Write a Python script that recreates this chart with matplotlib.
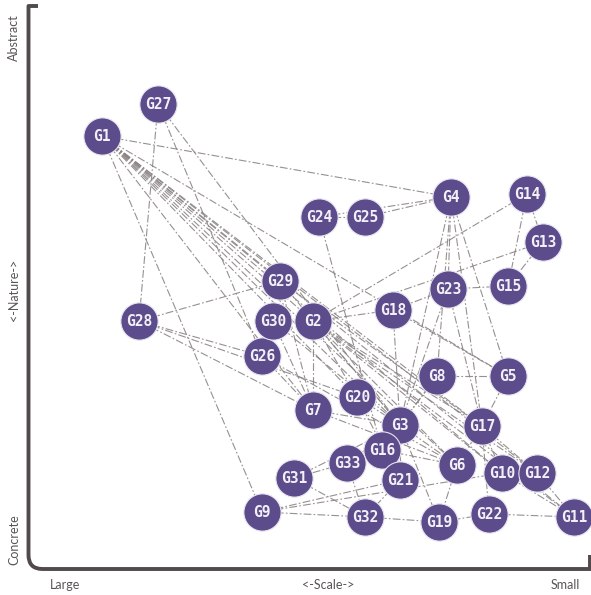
import matplotlib
matplotlib.use('Agg')
import matplotlib.pyplot as plt
from matplotlib.path import Path
from matplotlib.patches import PathPatch

# Noeuds (position: x = échelle, y = nature, origine en haut)
names = ['G1', 'G2', 'G3', 'G4', 'G5', 'G6', 'G7', 'G8', 'G9', 'G10', 'G11',
         'G12', 'G13', 'G14', 'G15', 'G16', 'G17', 'G18', 'G19', 'G20', 'G21',
         'G22', 'G23', 'G24', 'G25', 'G26', 'G27', 'G28', 'G29', 'G30', 'G31',
         'G32', 'G33']
xs = [102, 313, 400, 451, 508, 457, 313, 437, 262, 502, 574,
      537, 543, 527, 508, 382, 482, 393, 439, 357, 400,
      489, 448, 319, 365, 262, 158, 139, 280, 273, 294,
      365, 347]
ys = [136, 321, 425, 197, 376, 465, 410, 376, 512, 473, 517,
      473, 242, 194, 286, 450, 426, 310, 522, 397, 480,
      514, 289, 217, 217, 356, 104, 321, 281, 321, 478,
      517, 463]

# Liens
edges = [
    ('G1', 'G4'), ('G1', 'G9'), ('G1', 'G29'), ('G1', 'G2'), ('G1', 'G3'),
    ('G1', 'G5'), ('G1', 'G17'), ('G1', 'G6'), ('G1', 'G10'), ('G1', 'G12'),
    ('G1', 'G11'), ('G1', 'G7'), ('G1', 'G20'),
    ('G27', 'G28'), ('G27', 'G26'), ('G27', 'G3'),
    ('G28', 'G29'), ('G28', 'G26'), ('G28', 'G7'), ('G28', 'G20'),
    ('G24', 'G25'), ('G25', 'G4'), ('G24', 'G4'), ('G24', 'G16'),
    ('G4', 'G23'), ('G4', 'G8'), ('G4', 'G3'), ('G4', 'G17'), ('G4', 'G5'),
    ('G14', 'G2'), ('G14', 'G13'), ('G14', 'G15'),
    ('G13', 'G2'), ('G13', 'G15'),
    ('G15', 'G23'), ('G23', 'G18'), ('G23', 'G17'), ('G23', 'G3'),
    ('G18', 'G2'), ('G18', 'G3'), ('G18', 'G5'),
    ('G8', 'G5'), ('G8', 'G3'), ('G8', 'G16'), ('G5', 'G17'),
    ('G2', 'G7'), ('G2', 'G20'), ('G2', 'G3'), ('G2', 'G17'), ('G2', 'G6'),
    ('G2', 'G12'), ('G2', 'G10'), ('G2', 'G11'),
    ('G29', 'G7'), ('G29', 'G3'), ('G29', 'G17'),
    ('G30', 'G7'), ('G30', 'G3'),
    ('G26', 'G7'), ('G26', 'G6'),
    ('G7', 'G3'), ('G7', 'G6'),
    ('G20', 'G3'), ('G20', 'G21'),
    ('G3', 'G16'), ('G3', 'G21'), ('G3', 'G19'), ('G3', 'G6'), ('G3', 'G31'),
    ('G17', 'G10'), ('G17', 'G6'), ('G17', 'G22'), ('G17', 'G12'),
    ('G16', 'G21'), ('G16', 'G6'),
    ('G33', 'G31'), ('G33', 'G32'), ('G33', 'G3'),
    ('G31', 'G32'), ('G9', 'G32'), ('G9', 'G21'), ('G9', 'G10'),
    ('G32', 'G19'), ('G19', 'G22'), ('G22', 'G11'), ('G12', 'G11'),
    ('G10', 'G11'), ('G21', 'G32'), ('G6', 'G19'),
]

x_labels = ['Large', '<-Scale->', 'Small']
y_labels = ['Abstract', '<-Nature->', 'Concrete']

W, H = 591, 595
fig = plt.figure(figsize=(W / 100, H / 100), dpi=100, facecolor='white')
ax = fig.add_axes([0, 0, 1, 1])
ax.set_xlim(0, W)
ax.set_ylim(H, 0)
ax.axis('off')

pos = {n: (x, y) for n, x, y in zip(names, xs, ys)}

# Liens en tirets-points
for a, b in edges:
    (x0, y0), (x1, y1) = pos[a], pos[b]
    ax.plot([x0, x1], [y0, y1], color='#8c8484', linewidth=0.8,
            linestyle=(0, (7, 2, 1.5, 2)), alpha=0.9, zorder=1)

# Noeuds
ax.scatter(xs, ys, s=720, color='#5c4c8c', edgecolors='#e8e4ef',
           linewidths=0.8, zorder=3)
for n, x, y in zip(names, xs, ys):
    ax.text(x, y + 0.5, n, ha='center', va='center', color='#f2f0f6',
            fontsize=10.5, fontweight='bold', family='DejaVu Sans Mono',
            zorder=4)

# Axes dessinés à la main (coin arrondi)
r = 14
verts = [(38, 6), (28.5, 6), (28.5, 569 - r), (28.5, 569), (28.5 + r, 569),
         (W, 569), (W - 1, 569), (W - 1, 555)]
codes = [Path.MOVETO, Path.LINETO, Path.LINETO, Path.CURVE3, Path.CURVE3,
         Path.LINETO, Path.MOVETO, Path.LINETO]
ax.add_patch(PathPatch(Path(verts, codes), facecolor='none',
                       edgecolor='#524a4a', linewidth=2.8, zorder=2,
                       capstyle='butt', joinstyle='round'))

# Libellés
lab = dict(color='#5a5555', fontsize=9, family='Lato')
ax.text(65, 585, x_labels[0], ha='center', va='center', **lab)
ax.text(328, 585, x_labels[1], ha='center', va='center', **lab)
ax.text(565, 585, x_labels[2], ha='center', va='center', **lab)
ax.text(14, 38, y_labels[0], ha='center', va='center', rotation=90, **lab)
ax.text(14, 290, y_labels[1], ha='center', va='center', rotation=90, **lab)
ax.text(14, 540, y_labels[2], ha='center', va='center', rotation=90, **lab)

fig.savefig('out.png', dpi=100, facecolor='white')
plt.close(fig)
